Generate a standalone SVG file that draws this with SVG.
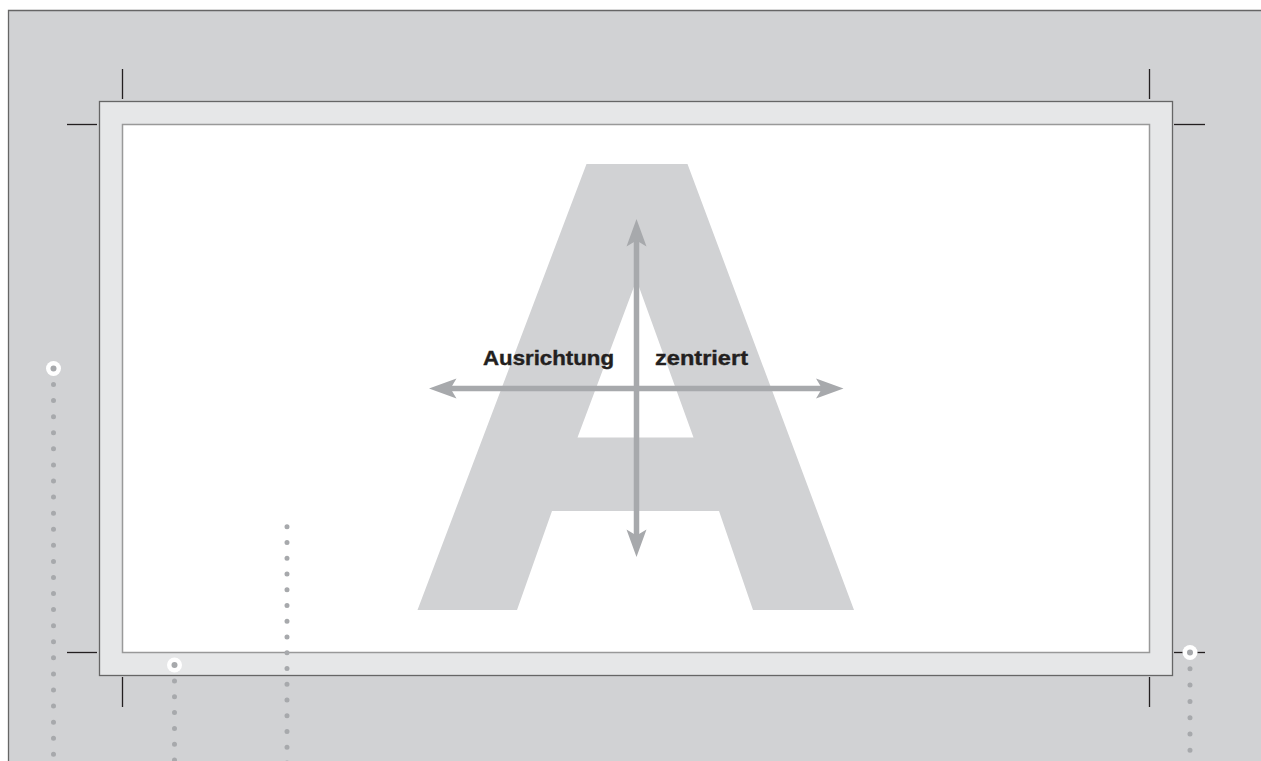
<svg xmlns="http://www.w3.org/2000/svg" width="1261" height="761" viewBox="0 0 1261 761">
<defs>
<style>
.crop{stroke:#231f20;stroke-width:1.3;fill:none}
.dots{stroke:#a7a9ac;stroke-width:5;stroke-linecap:round;fill:none}
.ring{fill:#ffffff}
.core{fill:#a7a9ac}
.axis{stroke:#a7a9ac;stroke-width:5.5;fill:none}
.head{fill:#a7a9ac}
.lbl{font-family:"Liberation Sans",Arial,sans-serif;font-weight:bold;font-size:21px;fill:#231f20;stroke:#231f20;stroke-width:0.4}
</style>
</defs>
<rect x="0" y="0" width="1261" height="761" fill="#ffffff"/>
<g id="sheet">
<rect x="8.5" y="10.5" width="1253" height="751" fill="#d1d2d4"/>
<path d="M8.5,761 L8.5,10.5 L1261,10.5" fill="none" stroke="#666666" stroke-width="1.3"/>
</g>
<g id="frame">
<rect x="99.5" y="101.5" width="1073" height="574" fill="#e6e7e8" stroke="#666666" stroke-width="1.3"/>
<rect x="122.5" y="124.5" width="1027" height="528" fill="#ffffff" stroke="#999999" stroke-width="1.5"/>
</g>
<g id="cropmarks">
<line class="crop" x1="122.5" y1="69" x2="122.5" y2="99"/>
<line class="crop" x1="1149.5" y1="69" x2="1149.5" y2="99"/>
<line class="crop" x1="67" y1="124.5" x2="97" y2="124.5"/>
<line class="crop" x1="1174" y1="124.5" x2="1205" y2="124.5"/>
<line class="crop" x1="67" y1="652.5" x2="97" y2="652.5"/>
<line class="crop" x1="1174" y1="652.5" x2="1205" y2="652.5"/>
<line class="crop" x1="122.5" y1="677" x2="122.5" y2="707"/>
<line class="crop" x1="1149.5" y1="677" x2="1149.5" y2="707"/>
</g>
<g id="letterA">
<path d="M586.5,164 L687.5,164 L854,610 L753,610 L719,511 L552,511 L517,610 L417.5,610 Z M636.5,280 L577.5,437.5 L693.5,437.5 Z" fill="#d1d2d4" fill-rule="evenodd"/>
</g>
<g id="connectors">
<line class="axis" x1="636.5" y1="238" x2="636.5" y2="538"/>
<line class="axis" x1="447" y1="388.5" x2="826" y2="388.5"/>
<path class="head" d="M636.5,219 L646.5,246.5 L636.5,240.5 L626.5,246.5 Z"/>
<path class="head" d="M636.5,557 L646.5,529.5 L636.5,535.5 L626.5,529.5 Z"/>
<path class="head" d="M429,388.5 L456.5,378.5 L450.5,388.5 L456.5,398.5 Z"/>
<path class="head" d="M843.5,388.5 L816,378.5 L822,388.5 L816,398.5 Z"/>
</g>
<g id="label-ausrichtung"><text class="lbl" x="483" y="364.5" textLength="131" lengthAdjust="spacingAndGlyphs">Ausrichtung</text></g>
<g id="label-zentriert"><text class="lbl" x="655" y="364.5" textLength="93" lengthAdjust="spacingAndGlyphs">zentriert</text></g>
<g id="dots-1">
<circle class="ring" cx="53.5" cy="368.5" r="7.5"/>
<circle class="core" cx="53.5" cy="368.5" r="3"/>
<line class="dots" x1="53.5" y1="384.5" x2="53.5" y2="770" stroke-dasharray="0 16.08"/>
</g>
<g id="dots-2">
<circle class="ring" cx="174.5" cy="665" r="7.5"/>
<circle class="core" cx="174.5" cy="665" r="3"/>
<line class="dots" x1="174.5" y1="681" x2="174.5" y2="770" stroke-dasharray="0 15.8"/>
</g>
<g id="dots-3">
<line class="dots" x1="287" y1="526.7" x2="287" y2="770" stroke-dasharray="0 15.75"/>
</g>
<g id="dots-4">
<circle class="ring" cx="1190" cy="652.5" r="7.5"/>
<circle class="core" cx="1190" cy="652.5" r="3"/>
<line class="dots" x1="1190" y1="668.8" x2="1190" y2="770" stroke-dasharray="0 16.3"/>
</g>
</svg>
